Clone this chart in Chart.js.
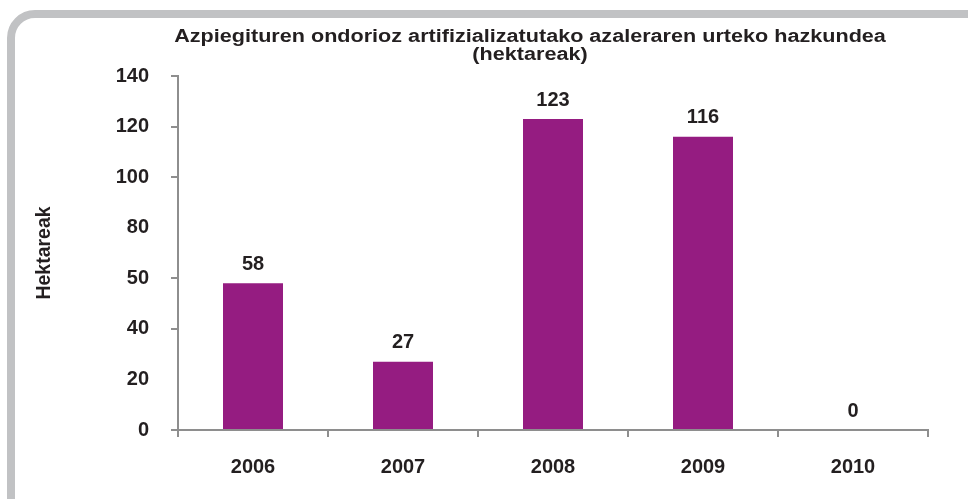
<!DOCTYPE html>
<html>
<head>
<meta charset="utf-8">
<script src="https://cdn.jsdelivr.net/npm/chart.js@4.4.0/dist/chart.umd.min.js"></script>
<style>
  html, body { margin: 0; padding: 0; background: #ffffff; }
  #wrap { position: relative; width: 968px; height: 499px; overflow: hidden; }
  #frame {
    position: absolute; left: 7px; top: 10px; width: 1000px; height: 520px;
    border: 8px solid #c1c2c4; border-radius: 28px; box-sizing: content-box;
  }
  #c { position: absolute; left: 0; top: 0; }
</style>
</head>
<body>
<div id="wrap">
  <div id="frame"></div>
  <canvas id="c" width="968" height="499"></canvas>
</div>
<script>
// Annual growth of surface artificialised by infrastructure (hectares)
const titleLines = ['Azpiegituren ondorioz artifizializatutako azaleraren urteko hazkundea', '(hektareak)'];
const yAxisTitle = 'Hektareak';
const years = ['2006', '2007', '2008', '2009', '2010'];
const hectares = [58, 27, 123, 116, 0];
const yTickValues = [0, 20, 40, 60, 80, 100, 120, 140];
const yTickLabels = ['0', '20', '40', '50', '80', '100', '120', '140'];
const yTicksWithMark = [0, 40, 60, 100, 120, 140];

const FONT = '"Liberation Sans", Arial, sans-serif';
const AXIS_GREY = '#8e8e8e';

// Two-line heading, slightly widened, centred at a fixed horizontal position
const headingPlugin = {
  id: 'heading',
  afterDraw(chart) {
    const ctx = chart.ctx;
    const cx = 530, stretch = 1.2;
    ctx.save();
    ctx.fillStyle = '#231f20';
    ctx.font = 'bold 18px ' + FONT;
    ctx.textAlign = 'center';
    ctx.textBaseline = 'middle';
    ctx.translate(cx, 0);
    ctx.scale(stretch, 1);
    titleLines.forEach((line, i) => ctx.fillText(line, 0, 37 + i * 18));
    ctx.restore();
  }
};

// Value printed above each bar
const valueLabels = {
  id: 'valueLabels',
  afterDatasetsDraw(chart) {
    const ctx = chart.ctx;
    const meta = chart.getDatasetMeta(0);
    ctx.save();
    ctx.fillStyle = '#231f20';
    ctx.font = 'bold 20px ' + FONT;
    ctx.textAlign = 'center';
    ctx.textBaseline = 'bottom';
    meta.data.forEach((bar, i) => {
      ctx.fillText(String(hectares[i]), bar.x, bar.y - 9);
    });
    ctx.restore();
  }
};

new Chart(document.getElementById('c'), {
  type: 'bar',
  data: {
    labels: years,
    datasets: [{
      data: hectares,
      backgroundColor: '#951c81',
      borderWidth: 0,
      barPercentage: 0.4,
      categoryPercentage: 1.0
    }]
  },
  options: {
    responsive: false,
    animation: false,
    devicePixelRatio: 1,
    layout: { padding: { left: 30, right: 40, top: 76, bottom: 0 } },
    plugins: {
      legend: { display: false },
      tooltip: { enabled: false },
      title: { display: false }
    },
    scales: {
      x: {
        afterFit(scale) { scale.height = 69; },
        border: { display: true, color: AXIS_GREY, width: 2 },
        grid: {
          display: true,
          drawOnChartArea: false,
          drawTicks: true,
          tickLength: 7,
          color: AXIS_GREY,
          lineWidth: 2,
          offset: true
        },
        ticks: {
          color: '#231f20',
          font: { family: FONT, size: 20, weight: 'bold' },
          padding: 18
        }
      },
      y: {
        min: 0,
        max: 140,
        afterFit(scale) { scale.width = 148; },
        afterBuildTicks(scale) {
          scale.ticks = yTickValues.map(v => ({ value: v }));
        },
        border: { display: true, color: AXIS_GREY, width: 2 },
        grid: {
          display: true,
          drawOnChartArea: false,
          drawTicks: true,
          tickLength: 7,
          lineWidth: 2,
          color: ctx => (ctx.tick && yTicksWithMark.includes(ctx.tick.value)) ? AXIS_GREY : 'rgba(0,0,0,0)'
        },
        ticks: {
          color: '#231f20',
          font: { family: FONT, size: 20, weight: 'bold' },
          padding: 22,
          callback: (value) => {
            const idx = yTickValues.indexOf(value);
            return idx >= 0 ? yTickLabels[idx] : '';
          }
        },
        title: {
          display: true,
          text: yAxisTitle,
          color: '#231f20',
          font: { family: FONT, size: 19.5, weight: 'bold' },
          padding: { top: 3, bottom: 3 }
        }
      }
    }
  },
  plugins: [headingPlugin, valueLabels]
});
</script>
</body>
</html>
